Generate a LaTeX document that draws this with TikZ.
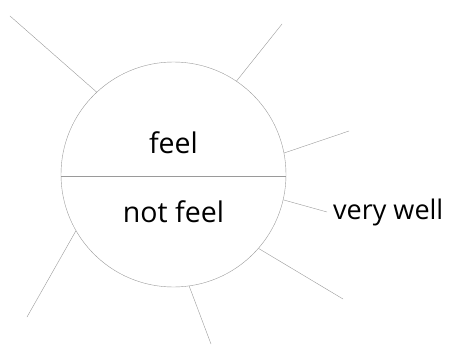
\documentclass[tikz,border=0pt]{standalone}
\usepackage{fontspec}
\setmainfont{Open Sans}
\definecolor{rimgray}{HTML}{9A9A9A}
\begin{document}
\begin{tikzpicture}[x=1pt,y=-1pt]
\useasboundingbox (0,0) rectangle (452,345);
% the disc, split in two halves
\node[circle,draw=rimgray,minimum size=225pt,inner sep=0pt] (disc) at (173.5,174.5) {};
\draw[color=rimgray] (disc.181.3) -- (disc.-1.3);
\node (feel) at (173.5,143) {\fontsize{28.5}{33}\selectfont feel};
\node (notfeel) at (173.5,212) {\fontsize{28.5}{33}\selectfont not feel};
% rays
\coordinate (r1) at (10,16);
\coordinate (r2) at (282,24);
\coordinate (r3) at (349,131);
\coordinate (r4) at (327,212);
\coordinate (r5) at (343,299);
\coordinate (r6) at (211,344);
\coordinate (r7) at (27,317);
\foreach \a/\r in {133.4/r1,56.2/r2,11.8/r3,-13.9/r4,-41.9/r5,-82/r6,210.6/r7}
\draw[color=rimgray] (disc.\a) -- (\r);
\node[anchor=west,inner sep=0pt] (well) at (r4) {\fontsize{27}{31}\selectfont\hspace{6pt}very well};
\end{tikzpicture}
\end{document}
